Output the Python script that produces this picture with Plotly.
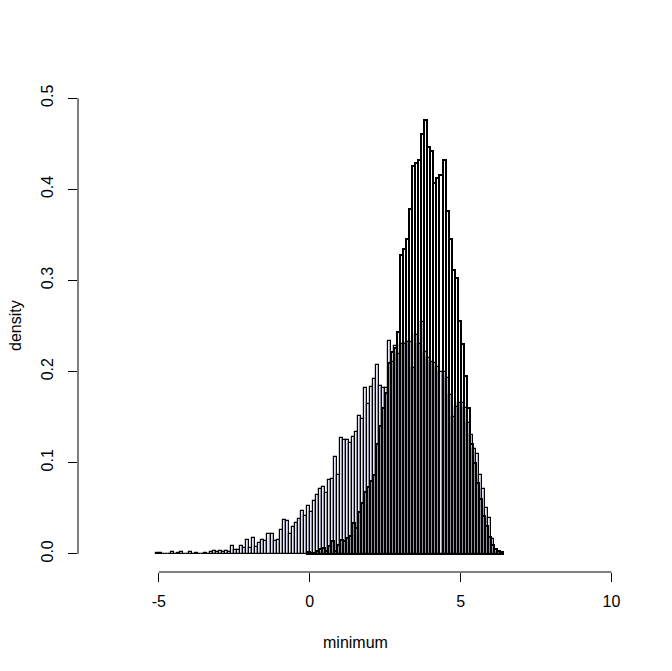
import numpy as np
import plotly.graph_objects as go

bin_width = 0.1

# light (lavender) histogram: densities of bins starting at -5.1
lav_start = -5.1
lav_density = [
    0.001, 0.001, 0.0, 0.0, 0.0, 0.002, 0.0, 0.001, 0.002, 0.0,
    0.0, 0.002, 0.0, 0.001, 0.0, 0.0, 0.001, 0.0, 0.002, 0.003,
    0.002, 0.003, 0.002, 0.003, 0.002, 0.008, 0.004, 0.004, 0.008, 0.006,
    0.015, 0.006, 0.017, 0.007, 0.012, 0.015, 0.014, 0.022, 0.022, 0.014,
    0.015, 0.026, 0.037, 0.036, 0.022, 0.029, 0.034, 0.038, 0.047, 0.042,
    0.052, 0.046, 0.058, 0.064, 0.071, 0.073, 0.067, 0.081, 0.082, 0.106,
    0.087, 0.127, 0.125, 0.125, 0.122, 0.128, 0.134, 0.151, 0.148, 0.182,
    0.164, 0.183, 0.192, 0.207, 0.184, 0.182, 0.182, 0.234, 0.210, 0.228,
    0.219, 0.230, 0.230, 0.232, 0.232, 0.204, 0.240, 0.230, 0.254, 0.221,
    0.215, 0.210, 0.209, 0.205, 0.200, 0.200, 0.193, 0.174, 0.150, 0.161,
    0.165, 0.165, 0.160, 0.144, 0.130, 0.115, 0.109, 0.086, 0.071, 0.050,
    0.039, 0.016, 0.004, 0.002, 0.001,
]

# dark histogram: densities of bins starting at -0.1
blk_start = -0.1
blk_density = [
    0.002, 0.001, 0.001, 0.003, 0.005, 0.006, 0.003, 0.008, 0.014, 0.003,
    0.010, 0.015, 0.014, 0.017, 0.020, 0.034, 0.028, 0.046, 0.056, 0.068,
    0.073, 0.080, 0.086, 0.120, 0.140, 0.160, 0.177, 0.209, 0.222, 0.226,
    0.243, 0.328, 0.334, 0.346, 0.378, 0.426, 0.429, 0.432, 0.461, 0.476,
    0.446, 0.442, 0.407, 0.412, 0.416, 0.432, 0.376, 0.346, 0.312, 0.303,
    0.255, 0.230, 0.195, 0.160, 0.120, 0.100, 0.078, 0.060, 0.042, 0.030,
    0.018, 0.010, 0.005, 0.003, 0.002,
]

x_ticks = [-5, 0, 5, 10]
x_tick_labels = ["-5", "0", "5", "10"]
y_ticks = [0.0, 0.1, 0.2, 0.3, 0.4, 0.5]
y_tick_labels = ["0.0", "0.1", "0.2", "0.3", "0.4", "0.5"]

x_lim = (-7, 10)
y_lim = (0, 0.5)


def centers(start, n):
    return start + (np.arange(n) + 0.5) * bin_width


def extend(lim):
    d = (lim[1] - lim[0]) * 0.04
    return [lim[0] - d, lim[1] + d]


FONT = "Liberation Sans, Arial, sans-serif"

fig = go.Figure()
fig.add_trace(go.Bar(
    x=centers(lav_start, len(lav_density)), y=lav_density, width=bin_width,
    marker=dict(color="#E6E6FA", line=dict(color="black", width=1.2)),
    showlegend=False,
))
fig.add_trace(go.Bar(
    x=centers(blk_start, len(blk_density)), y=blk_density, width=bin_width,
    marker=dict(color="rgba(0,0,0,0)", line=dict(color="black", width=2)),
    showlegend=False,
))

# R-style axis lines spanning only the tick range
fig.add_shape(type="line", xref="x", yref="paper", x0=min(x_ticks), x1=max(x_ticks),
              y0=0, y1=0, line=dict(color="black", width=1))
fig.add_shape(type="line", xref="paper", yref="y", x0=0, x1=0,
              y0=min(y_ticks), y1=max(y_ticks), line=dict(color="black", width=1))

fig.add_annotation(text="minimum", xref="paper", yref="paper", x=0.5, y=0,
                   xanchor="center", yanchor="middle", yshift=-70, showarrow=False,
                   font=dict(family=FONT, size=16, color="black"))
fig.add_annotation(text="density", xref="paper", yref="paper", x=0, y=0.5,
                   xanchor="center", yanchor="middle", xshift=-63, textangle=-90,
                   showarrow=False, font=dict(family=FONT, size=16, color="black"))

fig.update_layout(
    width=672, height=671,
    margin=dict(l=78, r=40, t=80, b=99),
    paper_bgcolor="white", plot_bgcolor="white",
    barmode="overlay", bargap=0,
    font=dict(family=FONT, size=16, color="black"),
    xaxis=dict(range=extend(x_lim), tickvals=x_ticks, ticktext=x_tick_labels,
               showgrid=False, zeroline=False, showline=False,
               ticks="outside", ticklen=9, tickwidth=1, tickcolor="black",
               ticklabelstandoff=6, tickfont=dict(family=FONT, size=16)),
    yaxis=dict(range=extend(y_lim), tickvals=y_ticks, ticktext=y_tick_labels,
               showgrid=False, zeroline=False, showline=False,
               ticks="outside", ticklen=9, tickwidth=1, tickcolor="black",
               tickangle=-90, ticklabelstandoff=9, tickfont=dict(family=FONT, size=16)),
)

fig.write_html("out.html", config={"displayModeBar": False},
               post_script="document.body.style.margin='0px';document.body.style.overflow='hidden';")
